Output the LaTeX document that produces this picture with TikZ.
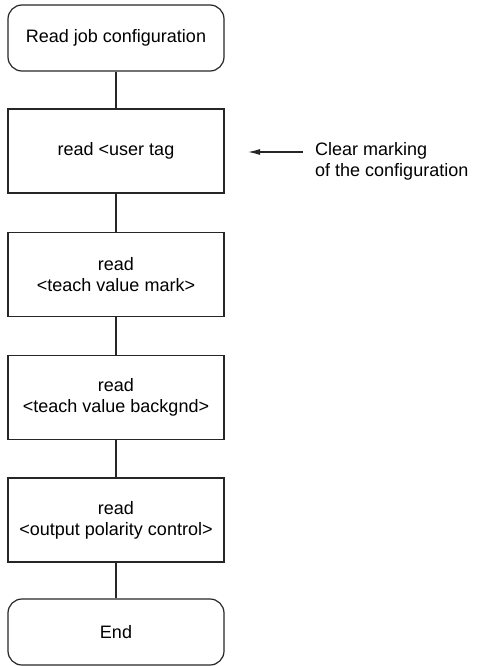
\documentclass[tikz,border=0pt]{standalone}
\usepackage{fontspec}
\setmainfont{Liberation Sans}
\usetikzlibrary{arrows.meta}
\begin{document}
\begin{tikzpicture}[x=1pt,y=1pt,
  font=\fontsize{18}{21}\selectfont,
  base/.style={draw=black!85, line width=1.2pt, minimum width=216pt, align=center, inner sep=0pt},
  stepbox/.style={base, minimum height=84pt},
  terminal/.style={base, minimum height=66pt, rounded corners=14pt},
  link/.style={draw=black!85, line width=1.2pt},
  arr/.style={draw=black!85, line width=1.2pt, -{Latex[length=12pt,width=6pt]}}]
\useasboundingbox (0,0) rectangle (477,-666);
\node[terminal] (start) at (116,-38) {Read job configuration};
\node[stepbox] (tag) at (116,-151) {read <user tag};
\node[stepbox] (mark) at (116,-274.5) {read\\<teach value mark>};
\node[stepbox] (bg) at (116,-397.5) {read\\<teach value backgnd>};
\node[stepbox] (pol) at (116,-520) {read\\<output polarity control>};
\node[terminal] (end) at (116,-632) {End};
\node[anchor=west, align=left, inner sep=0pt] (note) at (315,-161) {Clear marking\\of the configuration};
\coordinate (tail) at (303,-152);
\coordinate (tip) at (248,-152);
\draw[link] (start) -- (tag);
\draw[link] (tag) -- (mark);
\draw[link] (mark) -- (bg);
\draw[link] (bg) -- (pol);
\draw[link] (pol) -- (end);
\draw[arr] (tail) -- (tip);
\end{tikzpicture}
\end{document}
